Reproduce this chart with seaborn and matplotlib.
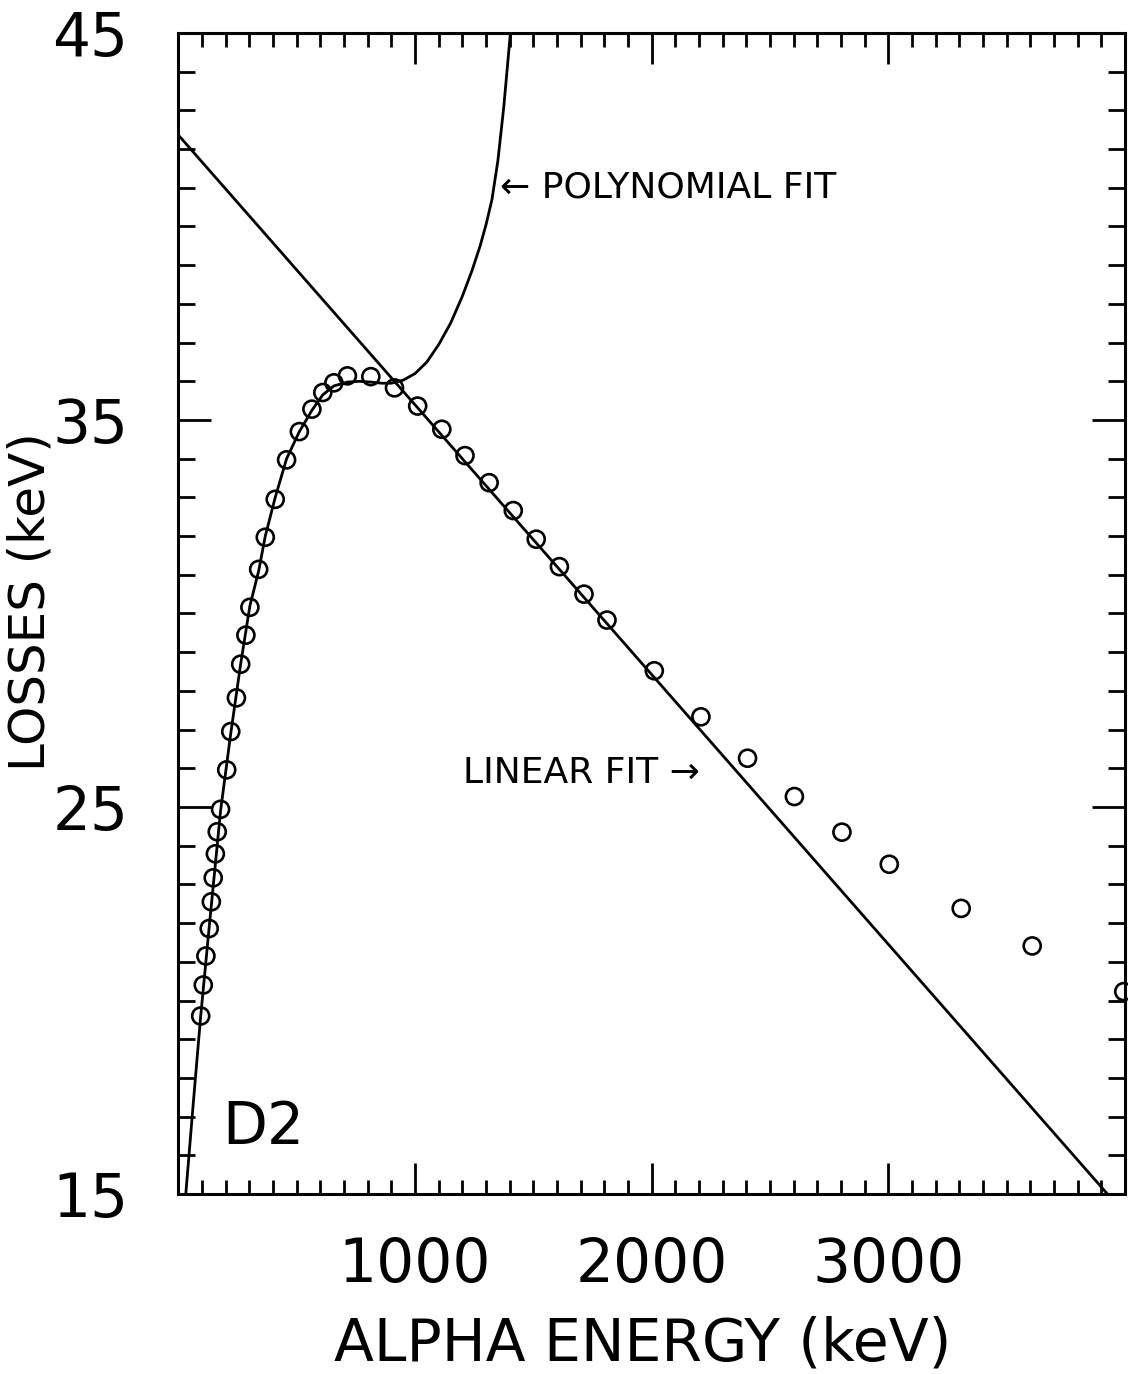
import numpy as np
import pandas as pd
import matplotlib
matplotlib.use("Agg")
import matplotlib.pyplot as plt
from matplotlib.ticker import MultipleLocator, FixedLocator, FixedFormatter
import seaborn as sns

# ---- data ----
energy = [94, 105, 116, 130, 139, 147, 156, 164, 178, 204, 221, 245, 263, 285,
          302, 339, 367, 409, 457, 511, 564, 610, 657, 714, 813, 913, 1011,
          1113, 1211, 1313, 1415, 1512, 1610, 1714, 1811, 2011, 2208, 2405,
          2603, 2804, 3004, 3308, 3608, 3995]
losses = [19.60, 20.40, 21.15, 21.86, 22.55, 23.17, 23.79, 24.36, 24.94, 25.96,
          26.95, 27.82, 28.69, 29.44, 30.16, 31.14, 31.97, 32.95, 33.97, 34.70,
          35.28, 35.71, 35.96, 36.14, 36.12, 35.83, 35.36, 34.76, 34.08, 33.38,
          32.66, 31.92, 31.21, 30.50, 29.83, 28.52, 27.33, 26.26, 25.27, 24.35,
          23.52, 22.38, 21.41, 20.23]

# polynomial fit curve
poly_x = [31, 62, 94, 130, 178, 221, 263, 302, 339, 367, 409, 457, 511, 564,
          610, 657, 714, 765, 813, 860, 900, 950, 1000, 1050, 1100, 1150, 1200,
          1240, 1275, 1300, 1325, 1350, 1375, 1400, 1410]
poly_y = [15.0, 17.3, 19.6, 21.9, 24.9, 26.9, 28.7, 30.2, 31.1, 32.0, 33.0,
          34.0, 34.7, 35.25, 35.65, 35.88, 35.98, 36.0, 35.98, 35.95, 35.95,
          36.03, 36.2, 36.5, 36.95, 37.5, 38.2, 38.85, 39.5, 40.05, 40.7,
          41.7, 43.1, 44.8, 45.5]

# linear fit parameters
lin_intercept = 42.36
lin_slope = -0.006969
lin_x = [0, 3926]

x_ticklabels = ["", "1000", "2000", "3000", ""]
y_ticklabels = ["15", "25", "35", "45"]

# ---- plot ----
sns.set_theme(style="ticks")
plt.rcParams["font.family"] = ["DejaVu Sans"]
for k in ["text.color", "axes.labelcolor", "xtick.color", "ytick.color",
          "axes.edgecolor"]:
    plt.rcParams[k] = "black"

fig = plt.figure(figsize=(11.28, 13.74), dpi=100)
ax = fig.add_axes([0.1582, 0.1310, 0.8391, 0.8450])

df_pts = pd.DataFrame({"energy": energy, "losses": losses})
df_poly = pd.DataFrame({"energy": poly_x, "losses": poly_y})
lin_y = [lin_intercept + lin_slope * v for v in lin_x]
df_lin = pd.DataFrame({"energy": lin_x, "losses": lin_y})

sns.lineplot(data=df_poly, x="energy", y="losses", ax=ax, color="black",
             linewidth=2.0, sort=False)
sns.lineplot(data=df_lin, x="energy", y="losses", ax=ax, color="black",
             linewidth=2.0, sort=False)
sns.scatterplot(data=df_pts, x="energy", y="losses", ax=ax, marker="o",
                s=150, facecolor="none", edgecolor="black", linewidth=1.9,
                zorder=5, clip_on=False)

ax.set_xlim(0, 4000)
ax.set_ylim(15, 45)

ax.xaxis.set_major_locator(FixedLocator([0, 1000, 2000, 3000, 4000]))
ax.xaxis.set_major_formatter(FixedFormatter(x_ticklabels))
ax.xaxis.set_minor_locator(MultipleLocator(100))
ax.yaxis.set_major_locator(FixedLocator([15, 25, 35, 45]))
ax.yaxis.set_major_formatter(FixedFormatter(y_ticklabels))
ax.yaxis.set_minor_locator(MultipleLocator(1))

ax.tick_params(axis="both", which="both", direction="in", top=True,
               right=True, color="black", width=2.0)
ax.tick_params(axis="x", which="major", length=22, labelsize=43, pad=30)
ax.tick_params(axis="x", which="minor", length=10)
ax.tick_params(axis="y", which="major", length=24, labelsize=43, pad=36)
ax.tick_params(axis="y", which="minor", length=12)

for sp in ax.spines.values():
    sp.set_linewidth(2.2)
    sp.set_color("black")

ax.set_xlabel("ALPHA ENERGY (keV)", fontsize=42)
ax.set_ylabel("LOSSES (keV)", fontsize=36)
ax.yaxis.set_label_coords(-0.131, 0.51)
ax.xaxis.set_label_coords(0.49, -0.105)

ax.text(1359, 41.0, "\u2190 POLYNOMIAL FIT", fontsize=26, ha="left",
        va="center")
ax.text(1203, 25.88, "LINEAR FIT \u2192", fontsize=26, ha="left",
        va="center")
ax.text(184, 16.73, "D2", fontsize=42, ha="left", va="center")

fig.savefig("out.png", dpi=100)
